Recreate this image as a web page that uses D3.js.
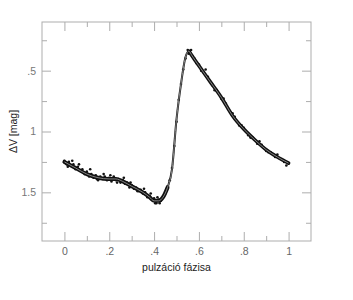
<!DOCTYPE html>
<html>
<head>
<meta charset="utf-8">
<script src="https://cdn.jsdelivr.net/npm/d3@7.9.0/dist/d3.min.js"></script>
<style>
  body { margin: 0; background: #fff; }
  svg { display: block; font-family: "Liberation Sans", Arial, sans-serif; }
</style>
</head>
<body>
<svg id="chart" width="353" height="300"></svg>
<script>
// fitted light curve (phase, ΔV)
const fitPhase = [0, 0.05, 0.10, 0.15, 0.20, 0.23, 0.26, 0.30, 0.35, 0.38, 0.40, 0.42, 0.44, 0.46, 0.48,
  0.50, 0.52, 0.54, 0.555, 0.57, 0.60, 0.65, 0.70, 0.75, 0.80, 0.85, 0.90, 0.95, 1.00];
const fitMag = [1.25, 1.30, 1.35, 1.38, 1.39, 1.39, 1.41, 1.45, 1.50, 1.54, 1.57, 1.57, 1.54, 1.46, 1.31,
  0.90, 0.61, 0.39, 0.34, 0.38, 0.46, 0.59, 0.72, 0.87, 0.98, 1.07, 1.15, 1.21, 1.26];

const obsPhase = [0.00, 0.01, 0.02, 0.03, 0.04, 0.05, 0.06, 0.07, 0.08, 0.09, 0.10, 0.11, 0.12, 0.13, 0.14,
  0.15, 0.16, 0.17, 0.18, 0.19, 0.20, 0.21, 0.22, 0.23, 0.24, 0.25, 0.26, 0.27, 0.28, 0.29, 0.30, 0.31,
  0.32, 0.33, 0.34, 0.35, 0.36, 0.37, 0.38, 0.39, 0.40, 0.41, 0.42, 0.43, 0.44, 0.45, 0.46, 0.47, 0.48,
  0.49, 0.50, 0.51, 0.52, 0.53, 0.54, 0.55, 0.56, 0.57, 0.58, 0.59, 0.60, 0.62, 0.64, 0.66, 0.68, 0.70,
  0.72, 0.74, 0.76, 0.78, 0.80, 0.82, 0.84, 0.86, 0.88, 0.90, 0.92, 0.94, 0.96, 0.98, 1.00,
  0.015, 0.035, 0.065, 0.085, 0.115, 0.145, 0.175, 0.205, 0.235, 0.265, 0.295, 0.325, 0.355, 0.385,
  0.405, 0.415, 0.425, 0.555, 0.565, 0.61, 0.63, 0.67, 0.71, 0.75, 0.79, 0.83, 0.87, 0.91, 0.95, 0.99];
const obsMag = [1.24, 1.27, 1.25, 1.28, 1.27, 1.31, 1.29, 1.32, 1.31, 1.35, 1.33, 1.37, 1.35, 1.38, 1.36,
  1.40, 1.37, 1.39, 1.37, 1.40, 1.38, 1.41, 1.37, 1.40, 1.39, 1.42, 1.40, 1.43, 1.42, 1.46, 1.44, 1.47,
  1.46, 1.49, 1.48, 1.51, 1.50, 1.54, 1.53, 1.56, 1.55, 1.59, 1.56, 1.57, 1.53, 1.51, 1.45, 1.40, 1.30,
  1.12, 0.92, 0.74, 0.61, 0.49, 0.40, 0.33, 0.35, 0.38, 0.40, 0.44, 0.45, 0.51, 0.55, 0.62, 0.66, 0.73,
  0.77, 0.84, 0.88, 0.95, 0.97, 1.03, 1.05, 1.10, 1.11, 1.16, 1.17, 1.21, 1.22, 1.25, 1.26,
  1.29, 1.24, 1.27, 1.34, 1.31, 1.39, 1.35, 1.36, 1.42, 1.38, 1.42, 1.49, 1.47, 1.51,
  1.59, 1.54, 1.59, 0.36, 0.33, 0.50, 0.49, 0.66, 0.73, 0.85, 0.95, 1.05, 1.08, 1.17, 1.19, 1.28];

const xTicks = [0, 0.1, 0.2, 0.3, 0.4, 0.5, 0.6, 0.7, 0.8, 0.9, 1];
const xLabels = [0, 0.2, 0.4, 0.6, 0.8, 1];
const yTicks = [0.25, 0.5, 0.75, 1, 1.25, 1.5, 1.75];
const yLabels = [0.5, 1, 1.5];

const svg = d3.select("#chart");
const plotLeft = 42, plotRight = 311, plotTop = 22, plotBottom = 241;

const x = d3.scaleLinear().domain([-0.1, 1.1]).range([plotLeft, plotRight]);
const y = d3.scaleLinear().domain([0.1, 1.9]).range([plotTop, plotBottom]);

const fmt = v => d3.format("~g")(v).replace(/^0\./, ".");
const isMajor = (list, v) => list.some(l => Math.abs(l - v) < 1e-9);
const axisColor = "#adadad";

// frame
svg.append("rect")
  .attr("x", plotLeft).attr("y", plotTop)
  .attr("width", plotRight - plotLeft).attr("height", plotBottom - plotTop)
  .attr("fill", "none").attr("stroke", axisColor).attr("stroke-width", 1);

// ticks pointing inward on all four sides
function tickLine(g) {
  g.select(".domain").remove();
  g.selectAll(".tick line").attr("stroke", axisColor);
  g.selectAll(".tick text").remove();
}

svg.append("g").attr("transform", `translate(0,${plotBottom})`)
  .call(d3.axisTop(x).tickValues(xTicks).tickSizeOuter(0))
  .call(tickLine)
  .selectAll(".tick line").attr("y2", d => isMajor(xLabels, d) ? -9 : -5);
svg.append("g").attr("transform", `translate(0,${plotTop})`)
  .call(d3.axisBottom(x).tickValues(xTicks).tickSizeOuter(0))
  .call(tickLine)
  .selectAll(".tick line").attr("y2", d => isMajor(xLabels, d) ? 9 : 5);
svg.append("g").attr("transform", `translate(${plotLeft},0)`)
  .call(d3.axisRight(y).tickValues(yTicks).tickSizeOuter(0))
  .call(tickLine)
  .selectAll(".tick line").attr("x2", d => isMajor(yLabels, d) ? 9 : 5);
svg.append("g").attr("transform", `translate(${plotRight},0)`)
  .call(d3.axisLeft(y).tickValues(yTicks).tickSizeOuter(0))
  .call(tickLine)
  .selectAll(".tick line").attr("x2", d => isMajor(yLabels, d) ? -9 : -5);

// tick labels
svg.append("g").attr("transform", `translate(0,${plotBottom})`)
  .call(d3.axisBottom(x).tickValues(xLabels).tickFormat(fmt).tickSize(0).tickPadding(7))
  .call(g => g.select(".domain").remove())
  .selectAll("text").attr("fill", "#666").attr("font-size", 10.5)
  .attr("font-family", "Liberation Sans, Arial, sans-serif");
svg.append("g").attr("transform", `translate(${plotLeft},0)`)
  .call(d3.axisLeft(y).tickValues(yLabels).tickFormat(fmt).tickSize(0).tickPadding(6))
  .call(g => g.select(".domain").remove())
  .selectAll("text").attr("fill", "#777").attr("font-size", 10.5)
  .attr("font-family", "Liberation Sans, Arial, sans-serif");

// data
const fit = fitPhase.map((p, i) => [p, fitMag[i]]);
const obs = obsPhase.map((p, i) => [p, obsMag[i]]);
const line = d3.line().x(d => x(d[0])).y(d => y(d[1])).curve(d3.curveMonotoneX);

// observation band: dense on the slow branches, sparse on the rising branch
const bands = [
  { from: 0, to: 0.47, width: 4 },
  { from: 0.44, to: 0.57, width: 2 },
  { from: 0.555, to: 1, width: 3.6 }
];
bands.forEach(b => {
  svg.append("path").datum(fit.filter(d => d[0] >= b.from && d[0] <= b.to)).attr("d", line)
    .attr("fill", "none").attr("stroke", "#111").attr("stroke-width", b.width)
    .attr("stroke-linejoin", "round").attr("stroke-linecap", "round");
});

svg.append("g").selectAll("circle").data(obs).join("circle")
  .attr("cx", d => x(d[0])).attr("cy", d => y(d[1])).attr("r", 1.3)
  .attr("fill", "#111");

svg.append("path").datum(fit).attr("d", line)
  .attr("fill", "none").attr("stroke", "#b5b5b5").attr("stroke-width", 0.7);

// axis titles
svg.append("text").attr("x", (x(0) + x(1)) / 2).attr("y", 271)
  .attr("text-anchor", "middle").attr("font-size", 10.5).attr("fill", "#222")
  .text("pulzáció fázisa");
svg.append("text")
  .attr("transform", `translate(17,${y(1)}) rotate(-90)`)
  .attr("text-anchor", "middle").attr("font-size", 10.5).attr("fill", "#222")
  .text("ΔV [mag]");
</script>
</body>
</html>
